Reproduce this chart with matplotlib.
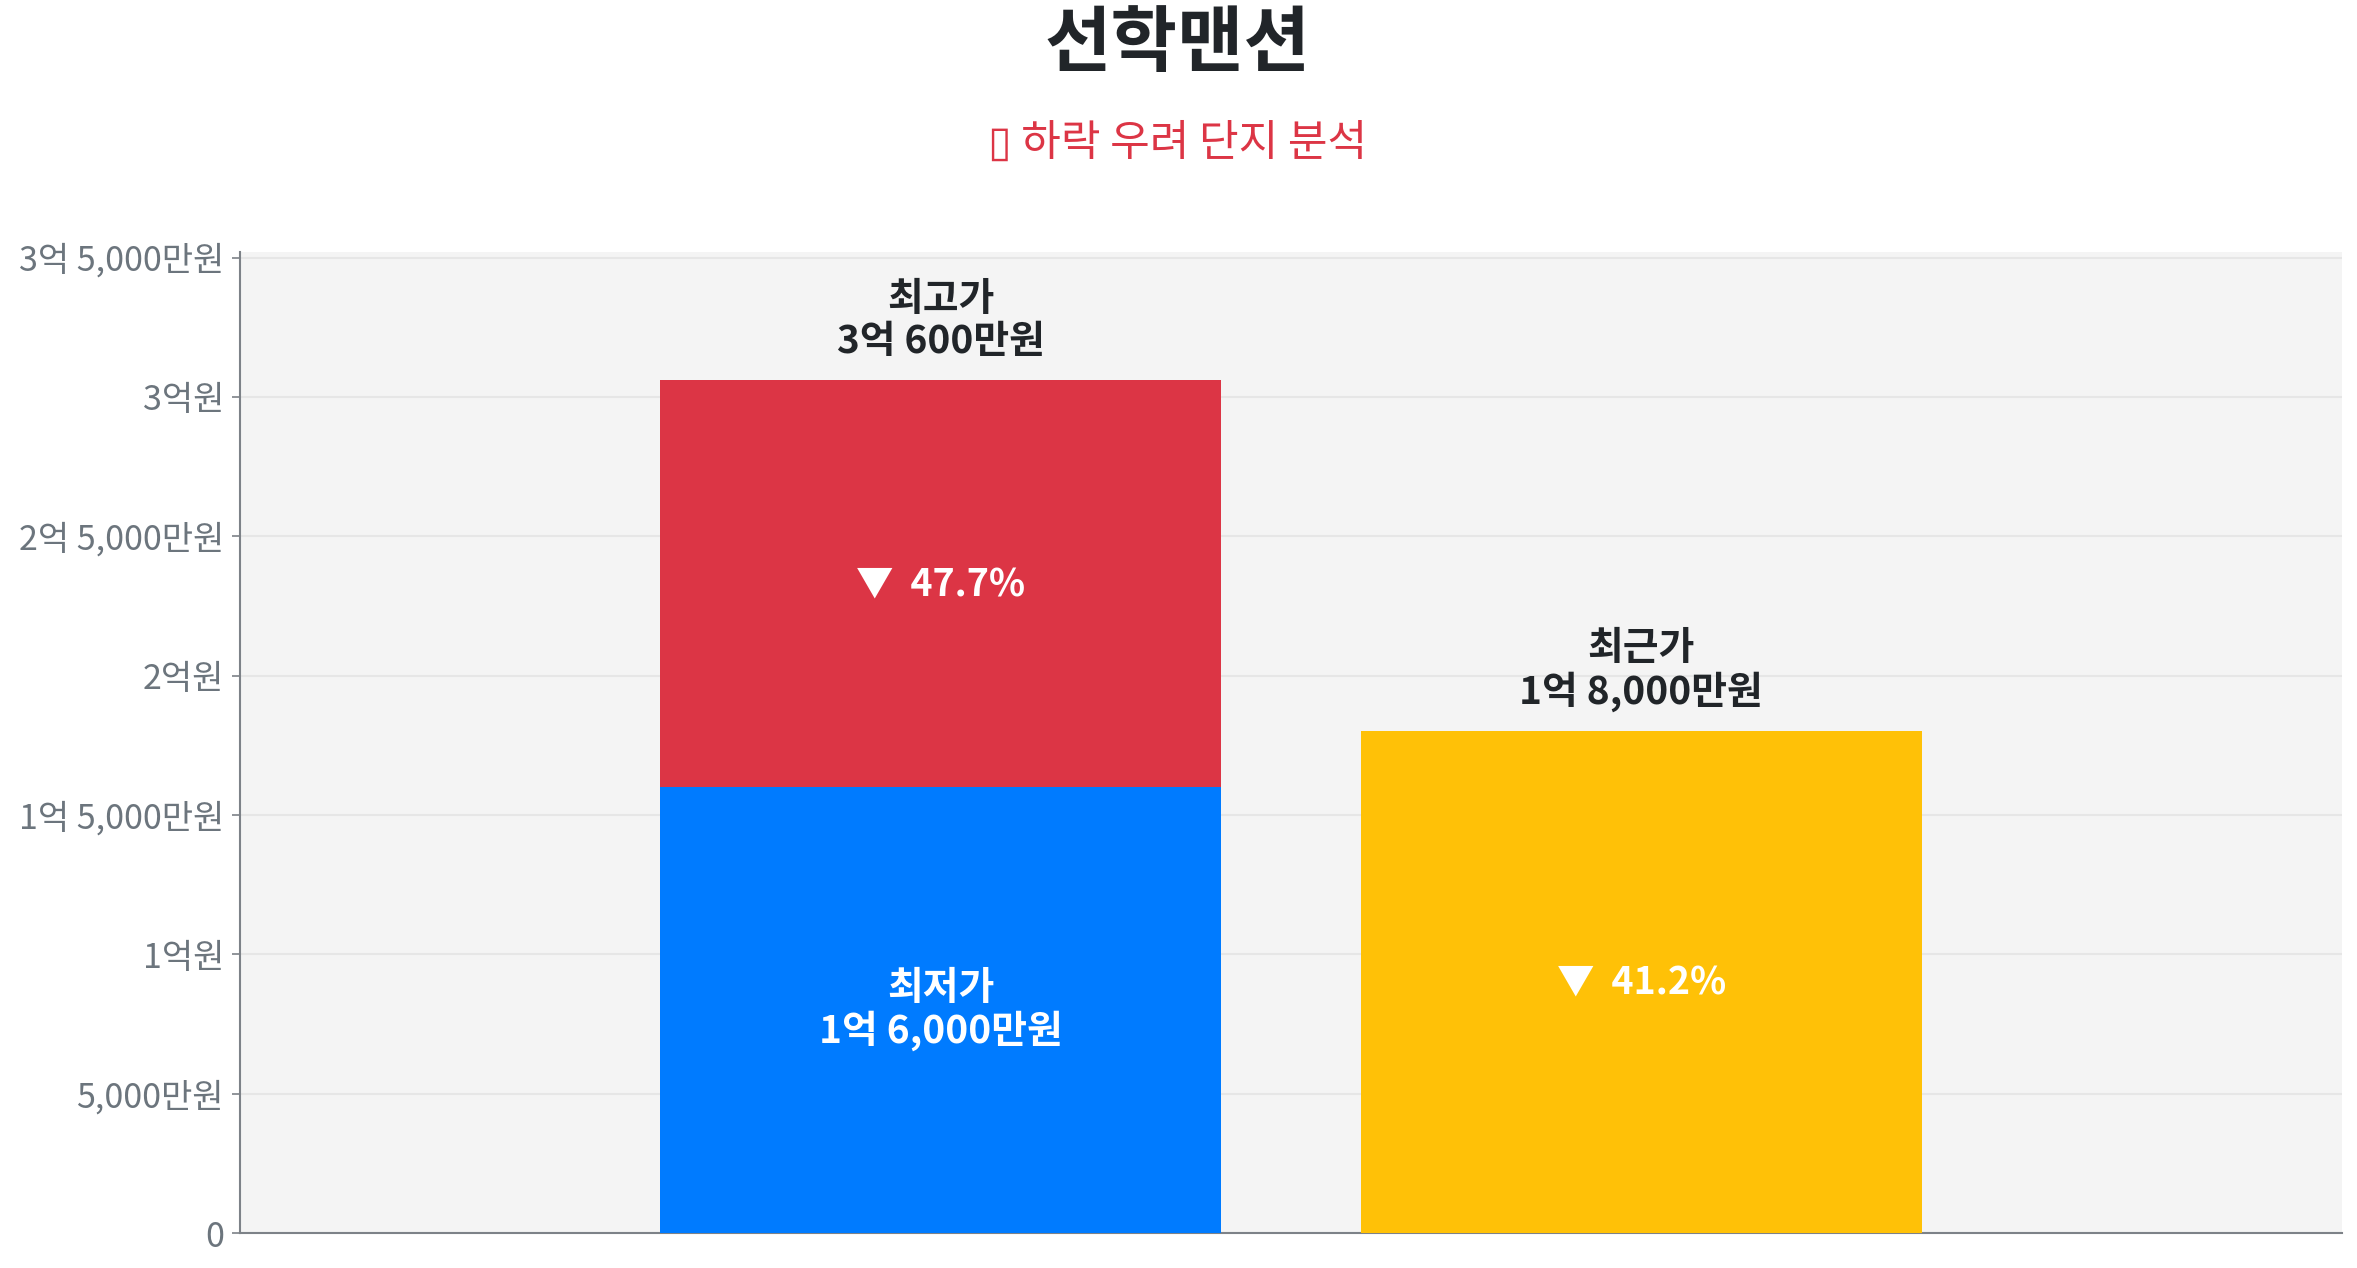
import matplotlib
matplotlib.use("Agg")
import matplotlib.pyplot as plt
from matplotlib.ticker import FuncFormatter, MultipleLocator

# data (won)
title = "선학맨션"
subtitle = "▯ 하락 우려 단지 분석"
positions = [0, 1]
low_price = 160000000      # 최저가
high_price = 306000000     # 최고가
recent_price = 180000000   # 최근가
label_names = ["최고가", "최저가", "최근가"]

plt.rcParams['font.family'] = ['Noto Sans CJK KR', 'DejaVu Sans']

DARK = "#212529"
GRAY = "#6c757d"
BLUE = "#007bff"
RED = "#dc3545"
YELLOW = "#ffc107"


def won(v, pos=None):
    v = int(round(v))
    if v == 0:
        return "0"
    eok, rest = divmod(v, 100000000)
    man = rest // 10000
    if eok and man:
        return f"{eok}억 {man:,}만원"
    if eok:
        return f"{eok}억원"
    return f"{man:,}만원"


fig = plt.figure(figsize=(23.57, 12.68), dpi=100)
ax = fig.add_axes([0.1018, 0.0276, 0.8918, 0.7737])
ax.set_facecolor("#f4f4f4")

# stacked bar: low part + drop part up to the high price
ax.bar(positions[0], low_price, width=0.8, color=BLUE, zorder=3)
ax.bar(positions[0], high_price - low_price, bottom=low_price, width=0.8, color=RED, zorder=3)
ax.bar(positions[1], recent_price, width=0.8, color=YELLOW, zorder=3)

ax.set_xlim(-1, 2)
ax.set_ylim(0, 352000000)
ax.yaxis.set_major_locator(MultipleLocator(50000000))
ax.yaxis.set_major_formatter(FuncFormatter(won))
ax.set_xticks([])
ax.grid(axis="y", color="#e6e6e6", linewidth=1.5, zorder=0)
for s in ["top", "right"]:
    ax.spines[s].set_visible(False)
for s in ["left", "bottom"]:
    ax.spines[s].set_color("#7d8288")
    ax.spines[s].set_linewidth(1.5)
ax.tick_params(axis="y", colors="#7d8288", labelcolor=GRAY, labelsize=24.5,
               length=5.5, width=1.2, pad=6)

# labels
drop_high = (high_price - low_price) / high_price * 100
drop_recent = (high_price - recent_price) / high_price * 100
lab_kw = dict(ha="center", fontsize=28, fontweight="bold", linespacing=1.1)
pct_kw = dict(ha="center", fontsize=27, fontweight="bold")

ax.annotate(f"{label_names[0]}\n{won(high_price)}", (positions[0], high_price),
            xytext=(0, 14), textcoords="offset points", va="bottom",
            color=DARK, zorder=5, **lab_kw)
ax.text(positions[0], low_price / 2, f"{label_names[1]}\n{won(low_price)}",
        va="center", color="white", zorder=5, **lab_kw)
ax.text(positions[0], (low_price + high_price) / 2, f"▼  {drop_high:.1f}%",
        va="center", color="white", zorder=5, **pct_kw)
ax.annotate(f"{label_names[2]}\n{won(recent_price)}", (positions[1], recent_price),
            xytext=(0, 14), textcoords="offset points", va="bottom",
            color=DARK, zorder=5, **lab_kw)
ax.text(positions[1], recent_price / 2, f"▼  {drop_recent:.1f}%",
        va="center", color="white", zorder=5, **pct_kw)

fig.text(0.4994, 0.965, title, ha="center", va="center", fontsize=52,
         fontweight="bold", color=DARK)
fig.text(0.4994, 0.887, subtitle, ha="center", va="center", fontsize=31, color=RED)

fig.savefig("out.png", dpi=100)
